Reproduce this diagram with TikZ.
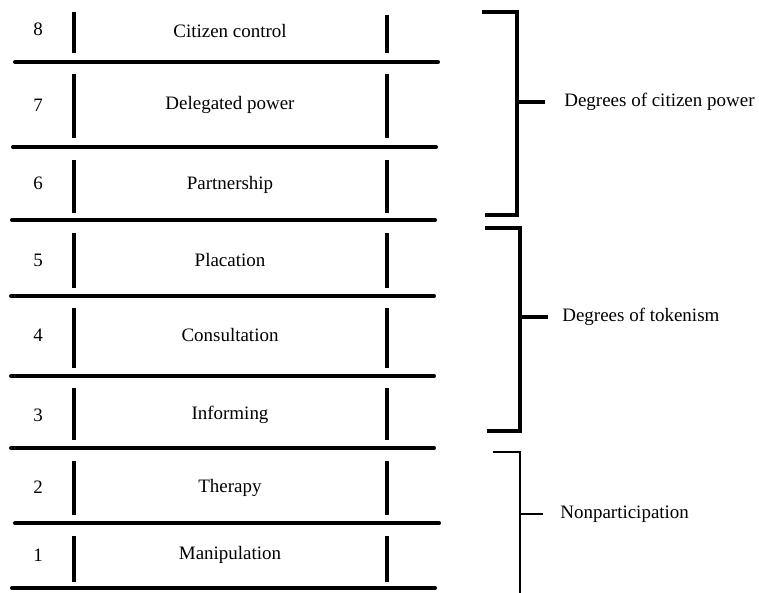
\documentclass[tikz,border=0pt]{standalone}
\usepackage{fontspec}
\setmainfont{Liberation Serif}
\usepackage{tikz}
\usetikzlibrary{calc,positioning}

\begin{document}
\begin{tikzpicture}[x=0.02cm,y=-0.02cm]
	\tikzstyle{every node}=[font=\fontsize{10.8}{13}\selectfont, inner sep=0pt]
	\tikzstyle{rung}=[line width=2.3pt, line cap=round]
	\tikzstyle{rail}=[line width=2.8pt]
	\tikzstyle{brace}=[line width=1.8pt, line cap=rect]
	\tikzstyle{num}=[anchor=center]
	\useasboundingbox (0,0) rectangle (759,592);
	% rungs
	\draw[rung] (15,62) -- (438,62);
	\draw[rung] (13,147) -- (436,147);
	\draw[rung] (12,220) -- (435,220);
	\draw[rung] (11,296) -- (434,296);
	\draw[rung] (11,376) -- (434,376);
	\draw[rung] (11,448) -- (434,448);
	\draw[rung] (15,523) -- (439,523);
	\draw[rung] (12,588) -- (435,588);
	% rails
	\draw[rail] (74,12) -- (74,53);   \draw[rail] (387,15) -- (387,53);
	\draw[rail] (74,74) -- (74,138);  \draw[rail] (387,74) -- (387,138);
	\draw[rail] (74,160) -- (74,213); \draw[rail] (387,160) -- (387,213);
	\draw[rail] (74,233) -- (74,288); \draw[rail] (387,233) -- (387,288);
	\draw[rail] (74,308) -- (74,368); \draw[rail] (387,308) -- (387,368);
	\draw[rail] (74,388) -- (74,440); \draw[rail] (387,388) -- (387,440);
	\draw[rail] (74,461) -- (74,515); \draw[rail] (387,461) -- (387,515);
	\draw[rail] (74,536) -- (74,582); \draw[rail] (387,536) -- (387,582);
	% steps
	\node[num] (n8) at (38,29) {8};
	\node (s8) at (230,31) {Citizen control};
	\node[num] (n7) at (38,105) {7};
	\node (s7) at (230,105) {Delegated power};
	\node[num] (n6) at (38,183) {6};
	\node (s6) at (230,185) {Partnership};
	\node[num] (n5) at (38,260) {5};
	\node (s5) at (230,260) {Placation};
	\node[num] (n4) at (38,335) {4};
	\node (s4) at (230,335) {Consultation};
	\node[num] (n3) at (38,415) {3};
	\node (s3) at (230,415) {Informing};
	\node[num] (n2) at (38,487) {2};
	\node (s2) at (230,488) {Therapy};
	\node[num] (n1) at (38,555) {1};
	\node (s1) at (230,555) {Manipulation};
	% brackets
	\draw[brace] (484,12) -- (517,12) -- (517,215) -- (487,215);
	\coordinate (b1) at (517,102);
	\node[anchor=west] (g1) at (564,102) {Degrees of citizen power};
	\draw[brace] (b1) -- ($(g1.west)+(-21,0)$);
	\draw[brace] (487,228) -- (520,228) -- (520,431) -- (489,431);
	\coordinate (b2) at (520,317);
	\node[anchor=west] (g2) at (562,317) {Degrees of tokenism};
	\draw[brace] (b2) -- ($(g2.west)+(-16,0)$);
	\draw[line width=1.1pt] (493,452) -- (520,452) -- (520,600);
	\coordinate (b3) at (520,514);
	\node[anchor=west] (g3) at (560,514) {Nonparticipation};
	\draw[line width=1.1pt] (b3) -- ($(g3.west)+(-17,0)$);
\end{tikzpicture}
\end{document}
